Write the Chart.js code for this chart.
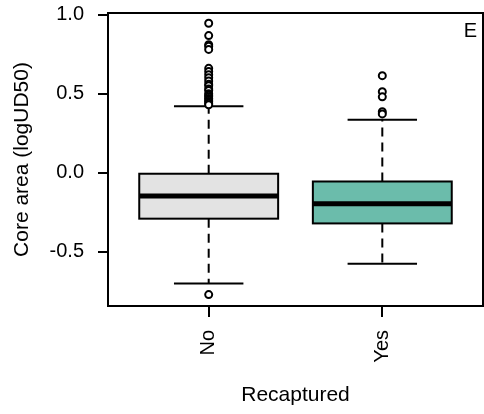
<!DOCTYPE html>
<html>
<head>
<meta charset="utf-8">
<script src="https://cdn.jsdelivr.net/npm/chart.js@4.4.0/dist/chart.umd.min.js"></script>
<style>
  body { margin: 0; background: #fff; overflow: hidden; }
</style>
</head>
<body>
<canvas id="coreArea" width="484" height="414"></canvas>
<script>
// data
const categories = ['No', 'Yes'];
const catPos = [1, 2];
const whiskerLow = [-0.70, -0.575];
const q1 = [-0.29, -0.32];
const medians = [-0.146, -0.196];
const q3 = [-0.006, -0.055];
const whiskerHigh = [0.42, 0.335];
const outliersNo = [0.945, 0.867, 0.81, 0.80, 0.78, 0.66, 0.64, 0.62, 0.60, 0.58, 0.56, 0.55,
  0.53, 0.52, 0.50, 0.49, 0.48, 0.47, 0.46, 0.45, 0.44, 0.43, -0.77];
const outliersYes = [0.614, 0.513, 0.48, 0.386, 0.372];
const boxColors = ['#e3e3e3', '#6bbcab'];
const yTicks = [-0.5, 0, 0.5, 1.0];
const panelLabel = 'E';

const fontFamily = '"Liberation Sans", Arial, sans-serif';

// boxes, whiskers, frame and panel letter
const boxPlugin = {
  id: 'boxes',
  beforeDatasetsDraw(chart) {
    const ctx = chart.ctx;
    const x = chart.scales.x;
    const y = chart.scales.y;
    ctx.save();
    for (let i = 0; i < categories.length; i++) {
      const cx = x.getPixelForValue(catPos[i]);
      const hw = x.getPixelForValue(catPos[i] + 0.4) - cx;
      const top = y.getPixelForValue(q3[i]);
      const bot = y.getPixelForValue(q1[i]);

      // dashed whiskers
      ctx.strokeStyle = '#000';
      ctx.lineWidth = 2;
      ctx.setLineDash([9, 6]);
      ctx.beginPath();
      ctx.moveTo(cx, top);
      ctx.lineTo(cx, y.getPixelForValue(whiskerHigh[i]));
      ctx.moveTo(cx, bot);
      ctx.lineTo(cx, y.getPixelForValue(whiskerLow[i]));
      ctx.stroke();
      ctx.setLineDash([]);

      // caps
      ctx.beginPath();
      for (const v of [whiskerHigh[i], whiskerLow[i]]) {
        const py = y.getPixelForValue(v);
        ctx.moveTo(cx - hw / 2, py);
        ctx.lineTo(cx + hw / 2, py);
      }
      ctx.stroke();

      // box
      ctx.fillStyle = boxColors[i];
      ctx.fillRect(cx - hw, top, hw * 2, bot - top);
      ctx.strokeRect(cx - hw, top, hw * 2, bot - top);

      // median
      ctx.lineWidth = 5;
      ctx.beginPath();
      const my = y.getPixelForValue(medians[i]);
      ctx.moveTo(cx - hw, my);
      ctx.lineTo(cx + hw, my);
      ctx.stroke();
    }
    ctx.restore();
  },
  afterDraw(chart) {
    const ctx = chart.ctx;
    const a = chart.chartArea;
    ctx.save();
    ctx.strokeStyle = '#000';
    ctx.lineWidth = 2;
    ctx.strokeRect(a.left, a.top, a.right - a.left, a.bottom - a.top);
    ctx.fillStyle = '#000';
    ctx.font = '20px ' + fontFamily;
    ctx.textAlign = 'right';
    ctx.textBaseline = 'middle';
    ctx.fillText(panelLabel, a.right - 6, a.top + 18);
    ctx.restore();
  }
};

const pointStyle = {
  pointRadius: 3.5,
  pointBorderWidth: 2,
  pointBackgroundColor: '#fff',
  pointBorderColor: '#000',
  pointHoverRadius: 3.5
};

const boxConfig = {
  type: 'scatter',
  data: {
    datasets: [
      Object.assign({ data: outliersNo.map(v => ({ x: catPos[0], y: v })) }, pointStyle),
      Object.assign({ data: outliersYes.map(v => ({ x: catPos[1], y: v })) }, pointStyle)
    ]
  },
  options: {
    responsive: false,
    animation: false,
    layout: { autoPadding: false, padding: { left: 0, top: 13, right: 1, bottom: 0 } },
    plugins: { legend: { display: false }, tooltip: { enabled: false } },
    scales: {
      x: {
        type: 'linear',
        min: 0.42,
        max: 2.58,
        afterBuildTicks: s => { s.ticks = catPos.map(v => ({ value: v })); },
        afterFit: s => { s.height = 108; s.paddingLeft = 0; s.paddingRight = 0; },
        ticks: {
          callback: (v) => categories[catPos.indexOf(v)],
          minRotation: 90,
          maxRotation: 90,
          autoSkip: false,
          padding: 13,
          color: '#000',
          font: { size: 20, family: fontFamily }
        },
        grid: { drawOnChartArea: false, drawTicks: true, tickLength: 11, color: '#000', lineWidth: 2 },
        border: { display: false },
        title: {
          display: true,
          text: 'Recaptured',
          color: '#000',
          font: { size: 21, family: fontFamily },
          padding: { top: 0, bottom: 6 }
        }
      },
      y: {
        min: -0.842,
        max: 1.01,
        afterBuildTicks: s => { s.ticks = yTicks.map(v => ({ value: v })); },
        afterFit: s => { s.width = 108; s.paddingTop = 0; s.paddingBottom = 0; },
        ticks: {
          callback: (v) => v.toFixed(1),
          padding: 14,
          color: '#000',
          font: { size: 20, family: fontFamily }
        },
        grid: { drawOnChartArea: false, drawTicks: true, tickLength: 10, color: '#000', lineWidth: 2 },
        border: { display: false },
        title: {
          display: true,
          text: 'Core area (logUD50)',
          color: '#000',
          font: { size: 21, family: fontFamily },
          padding: { top: 10, bottom: 0 }
        }
      }
    }
  },
  plugins: [boxPlugin]
};

const boxChart = new Chart(document.getElementById('coreArea'), boxConfig);
</script>
</body>
</html>
